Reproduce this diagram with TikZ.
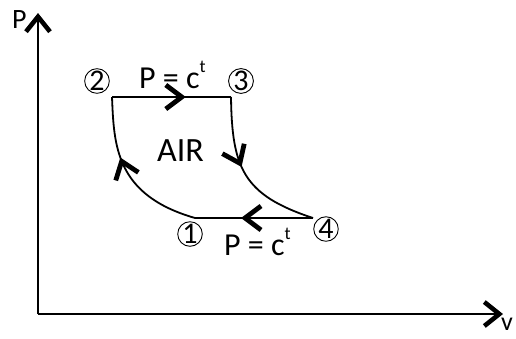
\documentclass[tikz,border=0pt]{standalone}
\usepackage{fontspec}
\setmainfont{Carlito}
\usetikzlibrary{arrows.meta,decorations.markings}
\begin{document}
\begin{tikzpicture}[x=1pt,y=-1pt,
  axis/.style={line width=2.4pt,-{Straight Barb[length=15pt,width=24pt,line width=4.6pt]}},
  curve/.style={line width=1.8pt},
  chevat/.style={postaction={decorate},decoration={markings,
     mark=at position #1 with {\arrow{Straight Barb[length=16pt,width=24pt,line width=4.8pt]}}}},
  circ/.style={draw,circle,line width=0.9pt,minimum size=24pt,inner sep=0pt,
     font=\fontsize{30}{30}\selectfont},
  lbl/.style={inner sep=0pt,anchor=base west,font=\fontsize{32}{32}\selectfont},
  big/.style={inner sep=0pt,anchor=base west,font=\fontsize{34}{34}\selectfont}]
\useasboundingbox (0,0) rectangle (516,338);
% axes
\coordinate (O) at (38,314);
\coordinate (Ptop) at (38,13);
\coordinate (Vend) at (503,314);
\draw[axis] (O) -- (Ptop);
\draw[axis] (O) -- (Vend);
\node[lbl,font=\fontsize{28}{28}\selectfont] (plab) at (12,28) {P};
\node[lbl,font=\fontsize{26}{26}\selectfont] (vlab) at (501,330) {v};
% cycle points
\coordinate (c1) at (195,218);
\coordinate (c2) at (112,97);
\coordinate (c3) at (231,97);
\coordinate (c4) at (313,218);
\draw[curve,chevat=0.62] (c2) -- (c3);
\draw[curve,chevat=0.44] (c3) .. controls (232,168) and (243,195) .. (c4);
\draw[curve,chevat=0.61] (c4) -- (c1);
\draw[curve,chevat=0.62] (c1) .. controls (115,195) and (114,145) .. (c2);
% circled labels
\node[circ] (n1) at (190,234) {1};
\node[circ] (n2) at (97,81) {2};
\node[circ] (n3) at (241,81) {3};
\node[circ] (n4) at (326,229) {4};
% texts
\node[lbl] (pc1) at (139,88) {P = c\raisebox{0.5em}{\fontsize{18}{18}\selectfont t}};
\node[lbl] (pc2) at (224,255) {P = c\raisebox{0.5em}{\fontsize{18}{18}\selectfont t}};
\node[big] (air) at (157,161) {AIR};
\end{tikzpicture}
\end{document}
